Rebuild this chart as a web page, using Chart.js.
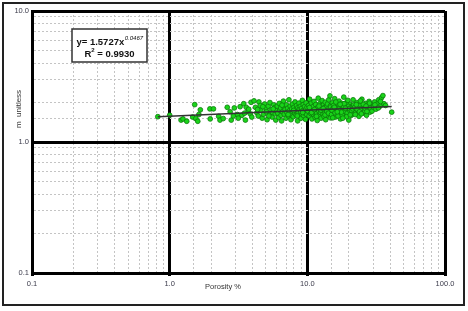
<!DOCTYPE html>
<html>
<head>
<meta charset="utf-8">
<script src="https://cdn.jsdelivr.net/npm/chart.js@4/dist/chart.umd.min.js"></script>
<style>
  html, body { margin: 0; padding: 0; background: #fff; }
  #wrap { width: 468px; height: 311px; }
</style>
</head>
<body>
<div id="wrap"><canvas id="mChart" width="468" height="311"></canvas></div>
<script>
// porosity (%) vs m (unitless)
const porosity = [
  0.82, 1.0, 1.21, 1.25, 1.33, 1.52, 1.47, 1.55, 1.63, 1.67, 1.60, 1.97, 1.96, 2.08, 2.27, 2.32, 2.45,
  2.62, 2.75, 2.80, 2.95, 3.1, 3.25, 3.35, 3.45, 3.6, 3.55, 3.7, 3.85, 3.9, 3.95, 3.75, 3.15, 2.9, 3.5,
  4.1, 4.2, 4.3, 4.4, 4.45, 4.55, 4.6, 4.7, 4.8, 4.9, 5.0, 5.05, 5.1, 5.2, 5.3, 5.35, 5.45, 5.55, 5.6, 5.7, 5.8, 5.85, 5.9, 5.95, 4.35, 4.75, 5.25, 5.65,
  6.05, 6.1, 6.2, 6.25, 6.3, 6.4, 6.45, 6.5, 6.6, 6.7, 6.75, 6.8, 6.9, 7.0, 7.05, 7.1, 7.2, 7.3, 7.35, 7.4, 7.5, 7.55, 7.6, 7.7, 7.8, 7.85, 7.9, 8.0,
  8.1, 8.15, 8.2, 8.3, 8.35, 8.4, 8.5, 8.55, 8.6, 8.7, 8.75, 8.8, 8.9, 8.95, 9.0, 9.1, 9.15, 9.2, 9.3, 9.35, 9.4, 9.5, 9.55, 9.6, 9.7, 9.75, 9.8, 9.9, 9.95,
  6.55, 7.25, 7.95, 8.45, 9.25,
  10.1, 10.2, 10.3, 10.4, 10.5, 10.6, 10.7, 10.8, 10.9, 11.0, 11.1, 11.2, 11.3, 11.4, 11.5, 11.6, 11.7, 11.8, 11.9, 12.0, 12.1, 12.2, 12.3, 12.4, 12.5,
  12.6, 12.7, 12.8, 12.9, 13.0, 13.1, 13.2, 13.3, 13.4, 13.5, 13.6, 13.7, 13.8, 13.9, 14.0, 14.1, 14.2, 14.3, 14.4, 14.5, 14.6, 14.7, 14.8, 14.9,
  10.35, 10.75, 11.25, 11.65, 12.15, 12.55, 13.05, 13.45, 13.85, 14.25, 14.75,
  15.0, 15.2, 15.4, 15.6, 15.8, 16.0, 16.2, 16.4, 16.6, 16.8, 17.0, 17.2, 17.4, 17.6, 17.8, 18.0, 18.2, 18.4, 18.6, 18.8, 19.0, 19.2, 19.4, 19.6, 19.8,
  20.0, 20.3, 20.6, 20.9, 21.2, 21.5, 21.8, 15.1, 15.5, 15.9, 16.3, 16.7, 17.1, 17.5, 17.9, 18.3, 18.7, 19.1, 19.5, 19.9, 20.4, 20.8, 21.3, 21.7,
  15.3, 16.1, 16.9, 17.7, 18.5, 19.3, 20.1, 21.0, 15.7, 16.5, 17.3, 18.1, 18.9, 19.7, 20.5, 21.4,
  22.1, 22.5, 22.9, 23.3, 23.7, 24.1, 24.5, 24.9, 25.3, 25.7, 26.1, 26.5, 26.9, 27.3, 27.7, 28.1, 28.5, 28.9, 29.3, 29.7,
  22.3, 23.0, 23.9, 24.7, 25.5, 26.3, 27.1, 27.9, 28.7, 29.5, 22.7, 24.3, 26.7, 28.3,
  30.2, 30.8, 31.5, 32.2, 33.0, 33.8, 34.6, 35.4, 36.0, 31.0, 32.8, 34.0, 37.0, 41.0
];
const mValues = [
  1.56, 1.60, 1.47, 1.50, 1.44, 1.93, 1.55, 1.51, 1.62, 1.76, 1.44, 1.50, 1.79, 1.79, 1.57, 1.47, 1.51,
  1.84, 1.70, 1.47, 1.82, 1.62, 1.86, 1.60, 1.96, 1.84, 1.47, 1.71, 1.64, 2.01, 1.55, 1.78, 1.52, 1.58, 1.66,
  2.06, 1.84, 1.67, 1.58, 2.02, 1.90, 1.74, 1.52, 1.63, 1.95, 1.81, 1.70, 1.48, 1.88, 1.61, 2.00, 1.76, 1.55, 1.68, 1.92, 1.83, 1.64, 1.47, 1.73, 1.77, 1.86, 1.58, 1.79,
  1.88, 1.66, 1.54, 1.97, 1.75, 1.82, 1.60, 1.45, 1.70, 2.05, 1.85, 1.63, 1.77, 1.52, 1.92, 1.68, 1.81, 1.58, 2.10, 1.73, 1.88, 1.64, 1.48, 1.79, 1.95, 1.70, 1.56, 1.84,
  1.66, 2.02, 1.76, 1.61, 1.90, 1.72, 1.45, 1.83, 1.67, 1.98, 1.78, 1.57, 1.87, 1.69, 1.52, 1.81, 1.63, 2.08, 1.74, 1.93, 1.59, 1.70, 1.86, 1.66, 1.49, 1.78, 1.99, 1.62, 1.84,
  1.91, 1.62, 1.74, 1.58, 1.68,
  1.72, 1.90, 1.58, 2.12, 1.80, 1.65, 1.98, 1.50, 1.76, 1.86, 1.62, 2.04, 1.70, 1.54, 1.93, 1.79, 1.66, 1.46, 1.84, 2.16, 1.73, 1.60, 1.96, 1.81, 1.68,
  1.52, 1.89, 2.07, 1.75, 1.63, 1.92, 1.57, 1.83, 1.70, 2.01, 1.48, 1.78, 1.87, 1.65, 1.95, 1.59, 1.74, 2.10, 1.82, 1.69, 2.25, 1.53, 1.90, 1.77,
  1.83, 1.68, 1.77, 1.57, 1.88, 1.75, 1.80, 1.61, 1.72, 1.66, 1.85,
  1.62, 1.99, 1.80, 1.71, 2.14, 1.55, 1.86, 1.76, 1.93, 1.64, 2.05, 1.72, 1.50, 1.84, 1.97, 1.68, 1.79, 2.20, 1.58, 1.90, 1.74, 1.63, 2.02, 1.82, 1.69,
  1.47, 1.95, 1.77, 1.60, 1.88, 2.10, 1.71, 1.75, 1.90, 1.67, 1.81, 1.58, 1.89, 1.76, 1.62, 1.85, 1.72, 1.95, 1.66, 1.87, 1.73, 1.83, 1.65, 1.92,
  1.53, 2.02, 1.78, 1.69, 1.96, 1.56, 1.80, 1.74, 1.84, 1.70, 1.94, 1.52, 1.81, 2.08, 1.61, 1.79,
  1.84, 1.68, 2.00, 1.75, 1.57, 1.90, 1.80, 2.12, 1.66, 1.86, 1.72, 1.97, 1.60, 1.83, 1.76, 2.04, 1.69, 1.88, 1.78, 1.93,
  1.62, 1.78, 1.70, 1.64, 1.94, 1.81, 1.71, 1.91, 1.82, 1.72, 1.93, 2.06, 1.88, 1.98,
  1.85, 2.02, 1.78, 1.95, 2.10, 1.88, 2.18, 2.26, 1.96, 1.92, 1.82, 2.04, 1.90, 1.69
];

// power-law fit line end points (straight on log-log axes)
const fitX = [0.82, 41];
const fitY = [1.557, 1.87];

const eqCoef = "1.5727";
const eqExp = "0.0467";
const eqR2 = "0.9930";

const xTickLabels = [0.1, 1, 10, 100];
const yTickLabels = [0.1, 1, 10];

const labelFont = "Liberation Sans, Arial, sans-serif";

function isDecade(v) {
  const l = Math.log10(v);
  return Math.abs(l - Math.round(l)) < 1e-6;
}

function gridWidth(ctx) {
  return ctx.tick && isDecade(ctx.tick.value) ? 3 : 1;
}
function gridColor(ctx) {
  return ctx.tick && isDecade(ctx.tick.value) ? "#000" : "#c4c4c4";
}
function tickColor(ctx) {
  return ctx.tick && isDecade(ctx.tick.value) ? "#000" : "rgba(0,0,0,0)";
}
function gridDash(ctx) {
  return ctx.tick && isDecade(ctx.tick.value) ? [] : [2, 2];
}

const extras = {
  id: "extras",
  afterDraw(chart) {
    const c = chart.ctx;
    c.save();

    // outer frame
    c.strokeStyle = "#222";
    c.lineWidth = 2;
    c.strokeRect(3, 3, 461, 302);

    // axis titles
    c.fillStyle = "#333";
    c.font = "7.5px " + labelFont;
    c.textAlign = "center";
    c.textBaseline = "middle";
    c.fillText("Porosity %", 223, 287);

    c.save();
    c.translate(19, 109);
    c.rotate(-Math.PI / 2);
    c.font = "8px " + labelFont;
    c.fillText("m  unitless", 0, 0);
    c.restore();

    // equation box
    c.fillStyle = "#fff";
    c.fillRect(72, 29, 75, 33);
    c.strokeStyle = "#333";
    c.lineWidth = 1.5;
    c.strokeRect(72, 29, 75, 33);

    c.fillStyle = "#111";
    c.textAlign = "left";
    c.textBaseline = "alphabetic";
    c.font = "bold 9.5px " + labelFont;
    const line1 = "y= " + eqCoef + "x";
    const w1 = c.measureText(line1).width;
    c.font = "italic 6px " + labelFont;
    const we = c.measureText(eqExp).width;
    let x0 = 72 + (75 - w1 - we) / 2;
    c.font = "bold 9.5px " + labelFont;
    c.fillText(line1, x0, 45);
    c.font = "italic 6px " + labelFont;
    c.fillText(eqExp, x0 + w1 + 0.5, 40);

    c.font = "bold 9.5px " + labelFont;
    const wR = c.measureText("R").width;
    const rest = " = " + eqR2;
    const wRest = c.measureText(rest).width;
    c.font = "bold 6px " + labelFont;
    const w2 = c.measureText("2").width;
    x0 = 72 + (75 - wR - w2 - wRest) / 2;
    c.font = "bold 9.5px " + labelFont;
    c.fillText("R", x0, 57);
    c.fillText(rest, x0 + wR + w2, 57);
    c.font = "bold 6px " + labelFont;
    c.fillText("2", x0 + wR, 52);

    c.restore();
  }
};

const scatterData = porosity.map((x, i) => ({ x: x, y: mValues[i] }));
const fitData = fitX.map((x, i) => ({ x: x, y: fitY[i] }));

new Chart(document.getElementById("mChart"), {
  type: "scatter",
  data: {
    datasets: [
      {
        label: "fit",
        type: "line",
        data: fitData,
        borderColor: "#333",
        borderWidth: 1.5,
        pointRadius: 0,
        fill: false
      },
      {
        label: "m",
        data: scatterData,
        pointStyle: "circle",
        pointRadius: 2.4,
        backgroundColor: "#19d419",
        borderColor: "#0b7a0b",
        borderWidth: 0.8
      }
    ]
  },
  options: {
    responsive: false,
    devicePixelRatio: 1,
    animation: false,
    layout: { padding: { left: 2, right: 23, top: 11, bottom: 2 } },
    plugins: { legend: { display: false }, tooltip: { enabled: false } },
    scales: {
      x: {
        type: "logarithmic",
        min: 0.1,
        max: 100,
        afterFit: s => { s.height = 36; },
        grid: { color: gridColor, lineWidth: gridWidth, tickColor: tickColor, tickLength: 3 },
        border: { display: true, color: "#000", width: 3, dash: gridDash },
        ticks: {
          autoSkip: false,
          maxRotation: 0,
          padding: 3,
          color: "#3a3a4a",
          font: { family: labelFont, size: 7.5 },
          callback: v => xTickLabels.some(t => Math.abs(t - v) < 1e-9) ? v.toFixed(1) : ""
        }
      },
      y: {
        type: "logarithmic",
        min: 0.1,
        max: 10,
        afterFit: s => { s.width = 30; },
        grid: { color: gridColor, lineWidth: gridWidth, drawTicks: false },
        border: { display: true, color: "#000", width: 3, dash: gridDash },
        ticks: {
          autoSkip: false,
          padding: 3,
          color: "#3a3a4a",
          font: { family: labelFont, size: 7.5 },
          callback: v => yTickLabels.some(t => Math.abs(t - v) < 1e-9) ? v.toFixed(1) : ""
        }
      }
    }
  },
  plugins: [extras]
});
</script>
</body>
</html>
